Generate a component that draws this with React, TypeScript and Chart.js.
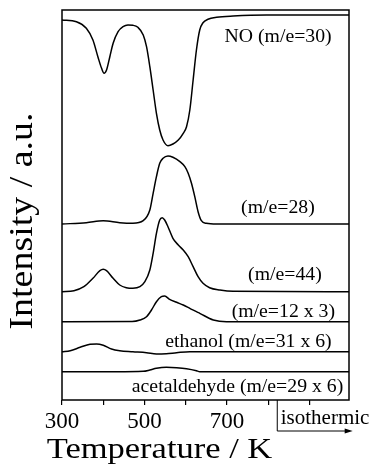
import { useEffect, useRef } from "react";
import { Chart, registerables } from "chart.js";

Chart.register(...registerables);

// ---- axis ----
const tickValues = [300, 400, 500, 600, 700, 800, 900];
const tickLabels = ["300", "", "500", "", "700", "", ""];
const xMin = 300;
const xMax = 996;
const yMin = 0;
const yMax = 390;
const isoStart = 822;
const isoEnd = 1005;

// ---- NO (m/e=30) ----
const noT = [300, 335, 359, 375, 387, 396, 402, 408, 416, 424, 436, 448, 460, 472, 484, 497, 505, 513, 521, 529, 537, 545, 557, 569, 582, 594, 602, 610, 618, 626, 634, 642, 654, 675, 715, 796, 996];
const noI = [380, 378.3, 371.7, 360, 343.3, 331.7, 326.7, 330, 343.3, 356.7, 368.3, 373.3, 375, 374.7, 372.7, 365, 353.3, 333.3, 310, 286.7, 270, 260, 254.3, 256, 260, 266.7, 273.3, 290, 320, 350, 370, 377.3, 380.7, 382.7, 384, 385, 385];

// ---- m/e=28 ----
const m28T = [300, 359, 400, 440, 472, 497, 513, 521, 529, 537, 545, 557, 569, 586, 598, 606, 614, 622, 630, 638, 650, 675, 996];
const m28I = [176, 177.3, 179.3, 177.3, 176.7, 179.3, 190, 206.7, 223.3, 236.7, 241.7, 244, 242.7, 238.3, 233.3, 226.7, 216.7, 203.3, 188.3, 179.3, 176.7, 176, 176];

// ---- m/e=44 ----
const m44T = [300, 329, 353, 375, 392, 400, 408, 424, 440, 456, 472, 489, 501, 513, 521, 529, 537, 543, 549, 557, 569, 582, 594, 606, 618, 630, 642, 658, 683, 715, 996];
const m44I = [108.3, 109.3, 113.3, 121.7, 129.3, 130.7, 129.3, 121.7, 115, 112.3, 111.7, 113.3, 118.3, 130, 146.7, 166.7, 180, 182.3, 180, 173.3, 161.7, 155, 150, 143.3, 133.3, 123.3, 116.7, 112.3, 110, 108.7, 108.3];

// ---- m/e=12 x 3 ----
const m12T = [300, 470, 489, 505, 517, 529, 541, 549, 561, 578, 594, 610, 626, 634, 667, 699, 996];
const m12I = [78.3, 78.5, 80, 83.3, 90, 98.3, 103.3, 104, 100.7, 97.7, 95, 91.7, 88.3, 86.7, 80, 78.3, 78.3];

// ---- ethanol (m/e=31 x 6) ----
const etT = [300, 320, 344, 368, 384, 400, 420, 440, 472, 505, 529, 553, 578, 610, 634, 996];
const etI = [48.3, 49.3, 52.7, 55.7, 56, 54.7, 51, 49.3, 48.3, 47.3, 46, 46.3, 47.3, 48.3, 48.3, 48.3];

// ---- acetaldehyde (m/e=29 x 6) ----
const acT = [300, 432, 497, 513, 529, 553, 578, 602, 626, 634, 996];
const acI = [28.3, 28.3, 28.7, 30, 31.7, 32.7, 32.3, 31.3, 29.3, 28.3, 28.3];

// ---- in-plot labels (anchored at right end, baseline) ----
const seriesLabels = ["NO (m/e=30)", "(m/e=28)", "(m/e=44)", "(m/e=12 x 3)", "ethanol (m/e=31 x 6)", "acetaldehyde (m/e=29 x 6)"];
const labelT = [954, 913, 930, 962, 954, 982];
const labelI = [358.3, 186.7, 120, 83.3, 53.3, 8.3];

const xTitle = "Temperature / K";
const yTitle = "Intensity / a.u.";
const isoText = "isothermic";

const SERIF = '"Liberation Serif", "Times New Roman", serif';

const pts = (t: number[], v: number[]) => t.map((x, i) => ({ x, y: v[i] }));

function drawText(ctx: CanvasRenderingContext2D, text: string, x: number, y: number, size: number, align: CanvasTextAlign, sx = 1) {
  ctx.save();
  ctx.translate(x, y);
  ctx.scale(sx, 1);
  ctx.font = `${size}px ${SERIF}`;
  ctx.textAlign = align;
  ctx.textBaseline = "alphabetic";
  ctx.fillStyle = "#000";
  ctx.fillText(text, 0, 0);
  ctx.restore();
}

const decorPlugin = {
  id: "decor",
  afterDraw(chart: any) {
    const { ctx, chartArea: a, scales } = chart;
    const xs = scales.x;
    const ys = scales.y;
    ctx.save();
    // frame
    ctx.strokeStyle = "#000";
    ctx.lineWidth = 1.5;
    ctx.strokeRect(a.left, a.top, a.right - a.left, a.bottom - a.top);

    // series labels
    seriesLabels.forEach((s, i) => {
      drawText(ctx, s, xs.getPixelForValue(labelT[i]), ys.getPixelForValue(labelI[i]), 19, "right", 1.04);
    });

    // isothermic bracket
    const x0 = xs.getPixelForValue(isoStart);
    const x1 = xs.getPixelForValue(isoEnd);
    const yb = a.bottom + 31;
    ctx.lineWidth = 1;
    ctx.beginPath();
    ctx.moveTo(x0, a.bottom);
    ctx.lineTo(x0, yb);
    ctx.lineTo(x1 - 4, yb);
    ctx.stroke();
    ctx.beginPath();
    ctx.moveTo(x1, yb);
    ctx.lineTo(x1 - 8, yb - 2.5);
    ctx.lineTo(x1 - 8, yb + 2.5);
    ctx.closePath();
    ctx.fillStyle = "#000";
    ctx.fill();
    drawText(ctx, isoText, x0 + 3.5, a.bottom + 24, 21, "left");

    // axis titles
    drawText(ctx, xTitle, (a.left + a.right) / 2 - 46, 458, 30, "center", 1.15);
    ctx.save();
    ctx.translate(31.5, (a.top + a.bottom) / 2 + 16);
    ctx.rotate(-Math.PI / 2);
    drawText(ctx, yTitle, 0, 0, 33, "center", 1.15);
    ctx.restore();
    ctx.restore();
  },
};

export default function App() {
  const ref = useRef<HTMLCanvasElement>(null);
  useEffect(() => {
    if (!ref.current) return;
    const mk = (t: number[], v: number[]) => ({
      data: pts(t, v),
      borderColor: "#000",
      borderWidth: 1.5,
      pointRadius: 0,
      fill: false,
      cubicInterpolationMode: "monotone" as const,
    });
    const chart = new Chart(ref.current, {
      type: "line",
      data: {
        datasets: [mk(noT, noI), mk(m28T, m28I), mk(m44T, m44I), mk(m12T, m12I), mk(etT, etI), mk(acT, acI)],
      },
      options: {
        animation: false,
        responsive: false,
        devicePixelRatio: 1,
        layout: { padding: { left: 62, right: 22, top: 10, bottom: 0 } },
        plugins: { legend: { display: false }, tooltip: { enabled: false }, title: { display: false } },
        scales: {
          x: {
            type: "linear",
            min: xMin,
            max: xMax,
            afterBuildTicks: (s: any) => {
              s.ticks = tickValues.map((v) => ({ value: v }));
            },
            afterFit: (s: any) => {
              s.height = 68;
            },
            ticks: {
              callback: (v: any) => tickLabels[tickValues.indexOf(Number(v))] ?? "",
              font: { family: SERIF, size: 23 },
              color: "#000",
              padding: 3,
              maxRotation: 0,
              autoSkip: false,
            },
            grid: { drawOnChartArea: false, drawTicks: true, tickLength: 5, color: "#000", lineWidth: 1.2 },
            border: { display: false },
          },
          y: { type: "linear", min: yMin, max: yMax, display: false },
        },
      },
      plugins: [decorPlugin],
    });
    return () => chart.destroy();
  }, []);
  return (
    <canvas
      ref={ref}
      width={371}
      height={468}
      style={{ position: "absolute", left: 0, top: 0, width: 371, height: 468, background: "#fff" }}
    />
  );
}
